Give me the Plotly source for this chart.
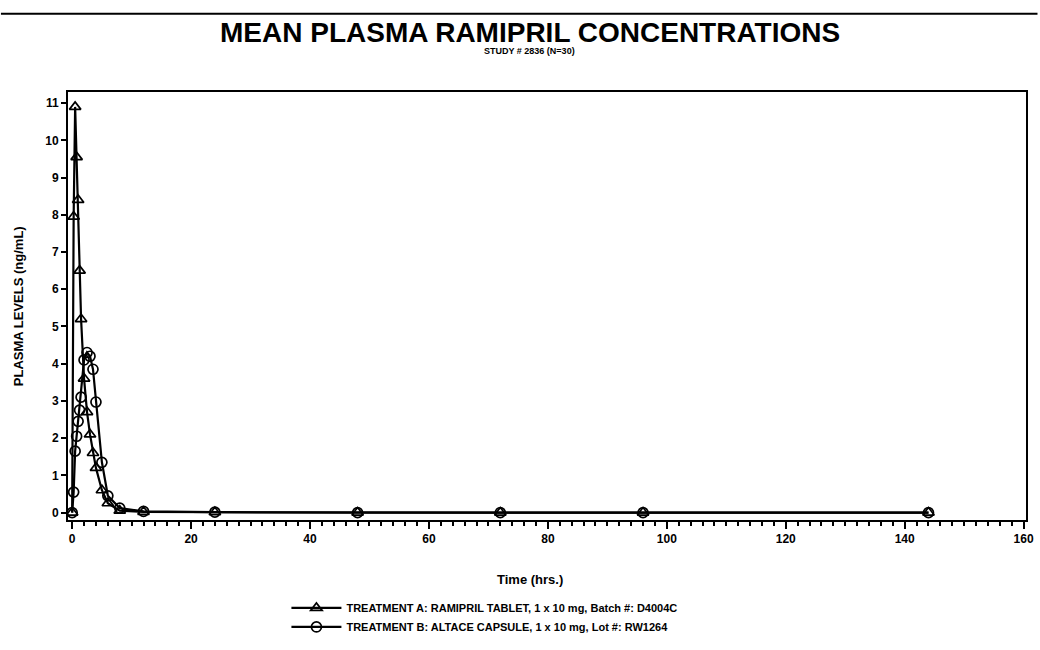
import plotly.graph_objects as go

time_hrs = [0, 0.25, 0.5, 0.75, 1, 1.25, 1.5, 2, 2.5, 3, 3.5, 4, 5, 6, 8, 12, 24, 48, 72, 96, 144]
treat_a = [0, 7.95, 10.9, 9.55, 8.4, 6.5, 5.2, 3.6, 2.7, 2.1, 1.6, 1.2, 0.6, 0.25, 0.05, 0.02, 0.01, 0, 0, 0, 0]
treat_b = [0, 0.55, 1.65, 2.05, 2.45, 2.75, 3.1, 4.1, 4.3, 4.2, 3.85, 2.97, 1.35, 0.45, 0.12, 0.03, 0.01, 0, 0, 0, 0]

name_a = "TREATMENT A: RAMIPRIL TABLET, 1 x 10 mg, Batch #: D4004C"
name_b = "TREATMENT B: ALTACE CAPSULE, 1 x 10 mg, Lot #: RW1264"
x_ticks = list(range(0, 161, 20))
y_ticks = list(range(0, 12))

FONT = "Liberation Sans, Arial, sans-serif"

fig = go.Figure()
fig.add_trace(go.Scatter(
    x=time_hrs, y=treat_a, name=name_a, mode="lines+markers",
    line=dict(color="black", width=2.2),
    marker=dict(symbol="triangle-up-open", size=10, color="black", line=dict(width=1.7)),
))
fig.add_trace(go.Scatter(
    x=time_hrs, y=treat_b, name=name_b, mode="lines+markers",
    line=dict(color="black", width=2.2),
    marker=dict(symbol="circle-open", size=10, color="black", line=dict(width=1.7)),
))

fig.update_layout(
    width=1040, height=650,
    margin=dict(l=68, r=14, t=92, b=130),
    paper_bgcolor="white", plot_bgcolor="white",
    font=dict(family=FONT, color="black", size=12, weight="bold"),
    showlegend=True,
    legend=dict(x=0.228, xanchor="left", yref="container", y=0.087, yanchor="top",
                font=dict(size=11, family=FONT, weight="bold"),
                itemwidth=50, tracegroupgap=0, bgcolor="rgba(0,0,0,0)"),
    annotations=[
        dict(text="MEAN PLASMA RAMIPRIL CONCENTRATIONS", x=0.482, y=1.14, xref="paper", yref="paper",
             xanchor="center", yanchor="middle",
             showarrow=False, font=dict(size=28, family=FONT, weight="bold")),
        dict(text="STUDY # 2836 (N=30)", x=0.482, y=1.096, xref="paper", yref="paper",
             xanchor="center", yanchor="middle",
             showarrow=False, font=dict(size=9, family=FONT, weight="bold")),
        dict(text="Time (hrs.)", x=0.482, y=-0.14, xref="paper", yref="paper",
             xanchor="center", yanchor="middle",
             showarrow=False, font=dict(size=13, family=FONT, weight="bold")),
        dict(text="PLASMA LEVELS (ng/mL)", x=-0.052, y=0.5, xref="paper", yref="paper",
             xanchor="center", yanchor="middle",
             textangle=-90, showarrow=False, font=dict(size=13, family=FONT, weight="bold")),
    ],
    shapes=[
        dict(type="line", xref="paper", yref="paper", x0=-0.07, x1=1.012, y0=1.183, y1=1.183,
             line=dict(color="black", width=2)),
    ],
)

fig.update_xaxes(
    range=[-0.7, 160.4], tickvals=x_ticks, ticktext=[str(v) for v in x_ticks],
    automargin=False,
    showgrid=False, zeroline=False, showline=True, linecolor="black", linewidth=2, mirror=True,
    ticks="outside", ticklen=7, tickwidth=2, tickcolor="black",
    minor=dict(dtick=2, ticks="outside", ticklen=4, tickwidth=1.5, tickcolor="black"),
    tickfont=dict(size=12, family=FONT, weight="bold"),
)
fig.update_yaxes(
    range=[-0.2, 11.3], tickvals=y_ticks, ticktext=[str(v) for v in y_ticks],
    automargin=False,
    showgrid=False, zeroline=False, showline=True, linecolor="black", linewidth=2, mirror=True,
    ticks="outside", ticklen=5, tickwidth=2, tickcolor="black",
    tickfont=dict(size=12, family=FONT, weight="bold"),
)

fig.write_html("out.html", config={"displayModeBar": False},
               post_script="document.body.style.margin='0';")
